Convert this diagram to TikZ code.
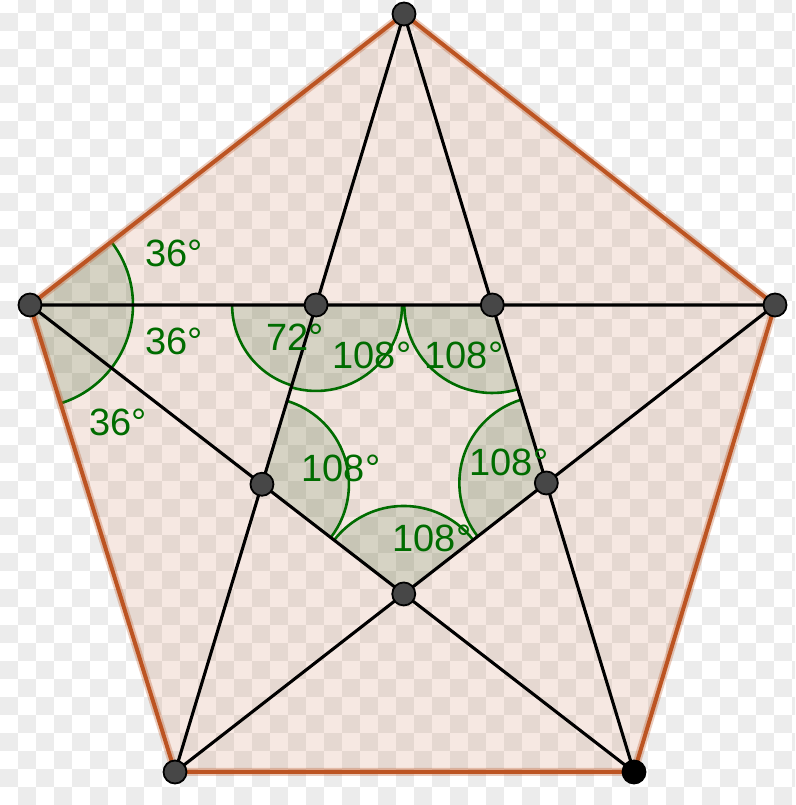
\documentclass[tikz,border=0pt]{standalone}
\usepackage{fontspec}
\setmainfont{Liberation Sans}
\usetikzlibrary{angles}
\definecolor{georust}{RGB}{188,84,34}
\definecolor{geogreen}{RGB}{0,108,0}
\definecolor{checker}{RGB}{236,236,236}

\begin{document}
\begin{tikzpicture}[x=1pt,y=1pt,
  dot/.style={circle,draw=black,fill=black!72,line width=1.8pt,inner sep=0pt,minimum size=23pt},
  sector/.style={draw=geogreen,line width=2.6pt,fill=geogreen!70!black,fill opacity=0.13},
  deg/.style={text=geogreen,inner sep=0pt,font=\fontsize{38}{38}\selectfont}]
\useasboundingbox (0,0) rectangle (795,805);
% checkered background
\fill[white] (0,0) rectangle (795,805);
\begin{scope}
\clip (0,0) rectangle (795,805);
\foreach \i in {0,...,44} {
  \foreach \j in {0,...,44} {
    \pgfmathtruncatemacro\odd{mod(\i+\j,2)}
    \ifnum\odd=1 \fill[checker] (\i*18,\j*18) rectangle ++(18,18); \fi
  }
}
\end{scope}
% pentagon corners
\coordinate (T) at (404,791);
\coordinate (L) at (30,500);
\coordinate (R) at (775,500);
\coordinate (BL) at (175,33);
\coordinate (BR) at (634,33);
% inner corners
\coordinate (P1) at (intersection of L--R and T--BL);
\coordinate (P2) at (intersection of L--R and T--BR);
\coordinate (P3) at (intersection of L--BR and T--BL);
\coordinate (P4) at (intersection of R--BL and T--BR);
\coordinate (P5) at (intersection of L--BR and R--BL);
\fill[georust,fill opacity=0.13] (T)--(R)--(BR)--(BL)--(L)--cycle;
% angle sectors
\pic[sector,angle radius=103pt] {angle = BL--L--T};
\pic[sector,angle radius=84pt] {angle = L--P1--P3};
\pic[sector,angle radius=86pt] {angle = P3--P1--P2};
\pic[sector,angle radius=88pt] {angle = P1--P2--P4};
\pic[sector,angle radius=87pt] {angle = P5--P3--P1};
\pic[sector,angle radius=87pt] {angle = P2--P4--P5};
\pic[sector,angle radius=88pt] {angle = P4--P5--P3};
% diagonals
\draw[black,line width=3.1pt] (T)--(BL) (T)--(BR) (L)--(R) (L)--(BR) (R)--(BL);
% outline
\draw[georust,line width=8pt,opacity=0.3,line join=round] (T)--(R)--(BR)--(BL)--(L)--cycle;
\draw[georust,line width=4pt,line join=round] (T)--(R)--(BR)--(BL)--(L)--cycle;
% points
\node[dot] (t) at (T) {};
\node[dot] (l) at (L) {};
\node[dot] (r) at (R) {};
\node[dot] (bl) at (BL) {};
\node[dot,fill=black] (br) at (BR) {};
\node[dot] (p1) at (P1) {};
\node[dot] (p2) at (P2) {};
\node[dot] (p3) at (P3) {};
\node[dot] (p4) at (P4) {};
\node[dot] (p5) at (P5) {};
% labels
\node[deg] (a1) at (174,552) {36°};
\node[deg] (a2) at (174,464) {36°};
\node[deg] (a3) at (118,383) {36°};
\node[deg] (b1) at (295,468) {72°};
\node[deg] (c1) at (372,450) {108°};
\node[deg] (c2) at (464,450) {108°};
\node[deg] (c3) at (341,337) {108°};
\node[deg] (c4) at (509,343) {108°};
\node[deg] (c5) at (432,267) {108°};
\end{tikzpicture}
\end{document}
